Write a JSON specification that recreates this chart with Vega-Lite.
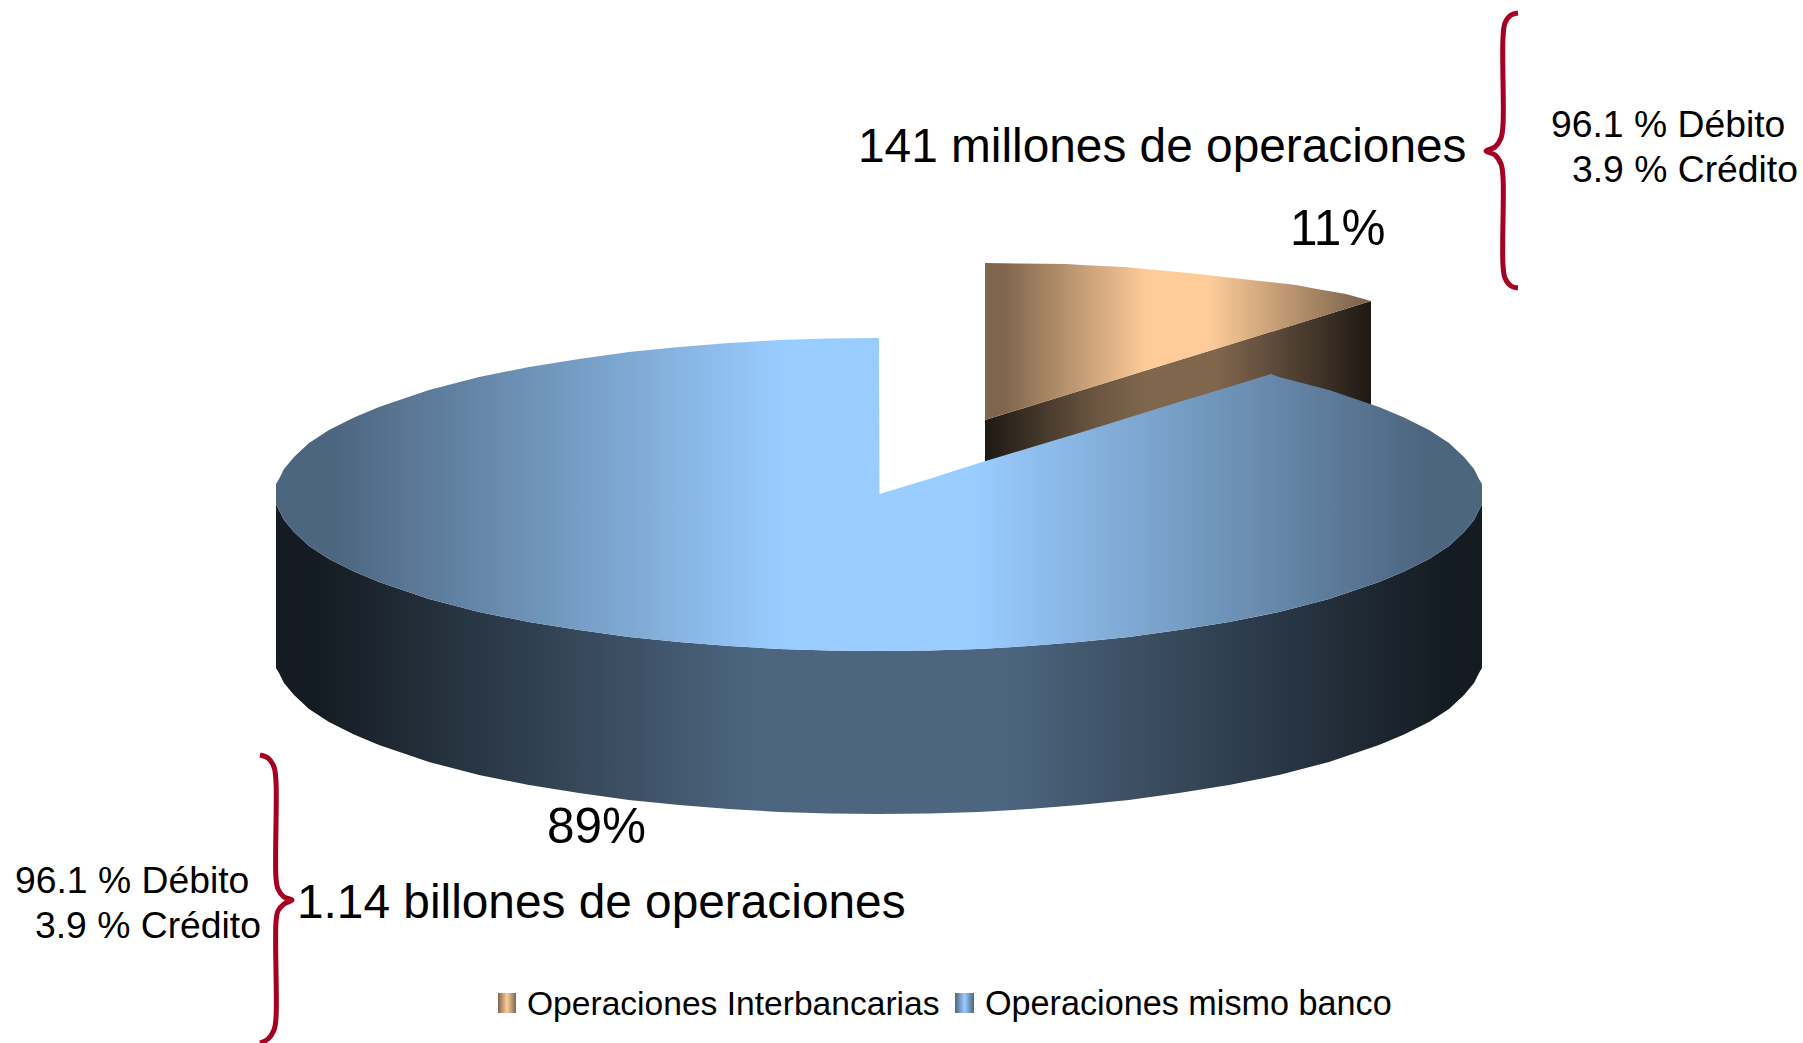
{
"$schema":"https://vega.github.io/schema/vega-lite/v6.json",
"width":1803,"height":1043,"padding":0,"autosize":{"type":"none"},
"background":"white",
"view":{"stroke":null},
"datasets":{
"side":[{"x":276,"y":504,"y2":668},{"x":279,"y":510,"y2":673},{"x":284,"y":520,"y2":683},{"x":294,"y":532,"y2":695},{"x":309,"y":546,"y2":709},{"x":329,"y":559,"y2":722},{"x":354,"y":571.5,"y2":734.5},{"x":379,"y":582,"y2":745},{"x":429,"y":599,"y2":762},{"x":479,"y":612,"y2":775},{"x":529,"y":622,"y2":785},{"x":579,"y":630,"y2":793},{"x":629,"y":637,"y2":800},{"x":679,"y":642,"y2":805},{"x":729,"y":646,"y2":809},{"x":779,"y":649,"y2":812},{"x":829,"y":650.5,"y2":813.5},{"x":879,"y":651,"y2":814},{"x":929,"y":650.5,"y2":813.5},{"x":979,"y":649,"y2":812},{"x":1029,"y":646,"y2":809},{"x":1079,"y":642,"y2":805},{"x":1129,"y":637,"y2":800},{"x":1179,"y":630,"y2":793},{"x":1229,"y":622,"y2":785},{"x":1279,"y":612,"y2":775},{"x":1329,"y":599,"y2":762},{"x":1379,"y":582,"y2":745},{"x":1404,"y":571.5,"y2":734.5},{"x":1429,"y":559,"y2":722},{"x":1449,"y":546,"y2":709},{"x":1464,"y":532,"y2":695},{"x":1474,"y":520,"y2":683},{"x":1479,"y":510,"y2":673},{"x":1482,"y":504,"y2":668}],
"top":[{"x":276,"y":484,"y2":504},{"x":279,"y":479,"y2":510},{"x":284,"y":469,"y2":520},{"x":294,"y":457,"y2":532},{"x":309,"y":443,"y2":546},{"x":329,"y":430,"y2":559},{"x":354,"y":417.5,"y2":571.5},{"x":379,"y":407,"y2":582},{"x":429,"y":390,"y2":599},{"x":479,"y":377,"y2":612},{"x":529,"y":367,"y2":622},{"x":579,"y":359,"y2":630},{"x":629,"y":352,"y2":637},{"x":679,"y":347,"y2":642},{"x":729,"y":343,"y2":646},{"x":779,"y":340,"y2":649},{"x":829,"y":338.5,"y2":650.5},{"x":879,"y":338,"y2":651},{"x":879.5,"y":494,"y2":651},{"x":929,"y":479,"y2":650.5},{"x":979,"y":463,"y2":649},{"x":1029,"y":448,"y2":646},{"x":1079,"y":433,"y2":642},{"x":1129,"y":417.5,"y2":637},{"x":1179,"y":402,"y2":630},{"x":1229,"y":387,"y2":622},{"x":1271,"y":374,"y2":613.5},{"x":1279,"y":377,"y2":612},{"x":1329,"y":390,"y2":599},{"x":1379,"y":407,"y2":582},{"x":1404,"y":417.5,"y2":571.5},{"x":1429,"y":430,"y2":559},{"x":1449,"y":443,"y2":546},{"x":1464,"y":457,"y2":532},{"x":1474,"y":469,"y2":520},{"x":1479,"y":479,"y2":510},{"x":1482,"y":484,"y2":504}],
"wedgeTop":[{"x":985,"y":263,"y2":420},{"x":1067,"y":264,"y2":394.7},{"x":1081,"y":265,"y2":390.4},{"x":1124,"y":267,"y2":377.2},{"x":1156,"y":270,"y2":367.3},{"x":1189,"y":273,"y2":357.2},{"x":1224,"y":277,"y2":346.4},{"x":1260,"y":281,"y2":335.3},{"x":1296,"y":285,"y2":324.2},{"x":1317,"y":289,"y2":317.7},{"x":1346,"y":294,"y2":308.8},{"x":1371,"y":301,"y2":301}],
"wedgeWall":[{"x":985,"y":420,"y2":583},{"x":1371,"y":301,"y2":464}],
"braceRight":[{"n":1,"x":1518,"y":13},{"n":2,"x":1511,"y":15},{"n":3,"x":1505,"y":23},{"n":4,"x":1503,"y":38},{"n":5,"x":1503,"y":125},{"n":6,"x":1501,"y":138},{"n":7,"x":1495,"y":147},{"n":8,"x":1486,"y":151},{"n":9,"x":1495,"y":155},{"n":10,"x":1501,"y":164},{"n":11,"x":1503,"y":177},{"n":12,"x":1503,"y":265},{"n":13,"x":1505,"y":278},{"n":14,"x":1511,"y":286},{"n":15,"x":1518,"y":288}],
"braceLeft":[{"n":1,"x":260,"y":755},{"n":2,"x":268,"y":758},{"n":3,"x":274,"y":767},{"n":4,"x":276,"y":782},{"n":5,"x":276,"y":878},{"n":6,"x":278,"y":889},{"n":7,"x":284,"y":897},{"n":8,"x":292,"y":900},{"n":9,"x":284,"y":904},{"n":10,"x":278,"y":911},{"n":11,"x":276,"y":922},{"n":12,"x":276,"y":1018},{"n":13,"x":274,"y":1030},{"n":14,"x":268,"y":1039},{"n":15,"x":260,"y":1043}],
"labelsBig":[{"x":858,"y":162,"label":"141 millones de operaciones"},{"x":297,"y":918,"label":"1.14 billones de operaciones"}],
"labelsPct":[{"x":1290,"y":245,"label":"11%"},{"x":547,"y":843,"label":"89%"}],
"labelsMid":[{"x":1551,"y":137,"label":"96.1 % Débito"},{"x":1572,"y":182,"label":"3.9 % Crédito"},{"x":15,"y":893,"label":"96.1 % Débito"},{"x":35,"y":938,"label":"3.9 % Crédito"}],
"legendA":[{"x":527,"y":1015,"label":"Operaciones Interbancarias"}],
"legendB":[{"x":985,"y":1015,"label":"Operaciones mismo banco"}]
},
"layer":[
{"data":{"name":"wedgeWall"},"mark":{"type":"area","color":{"gradient":"linear","x1":0,"y1":0,"x2":1,"y2":0,"stops":[{"offset":0,"color":"#1E1913"},{"offset":0.3,"color":"#6E5843"},{"offset":0.42,"color":"#7F664D"},{"offset":0.6,"color":"#7F664D"},{"offset":0.7,"color":"#6A5441"},{"offset":1,"color":"#1E1913"}]}},
"encoding":{"x":{"field":"x","type":"quantitative","scale":{"domain":[0,1803],"nice":false,"zero":false},"axis":null},"y":{"field":"y","type":"quantitative","scale":{"domain":[1043,0],"nice":false,"zero":false},"axis":null},"y2":{"field":"y2"}}},
{"data":{"name":"wedgeTop"},"mark":{"type":"area","color":{"gradient":"linear","x1":0,"y1":0,"x2":1,"y2":0,"stops":[{"offset":0,"color":"#7F664D"},{"offset":0.05,"color":"#7F664D"},{"offset":0.42,"color":"#FFCC99"},{"offset":0.58,"color":"#FFCC99"},{"offset":0.97,"color":"#7F664D"},{"offset":1,"color":"#7F664D"}]}},
"encoding":{"x":{"field":"x","type":"quantitative","axis":null},"y":{"field":"y","type":"quantitative","axis":null},"y2":{"field":"y2"}}},
{"data":{"name":"side"},"mark":{"type":"area","color":{"gradient":"linear","x1":0,"y1":0,"x2":1,"y2":0,"stops":[{"offset":0,"color":"#141B22"},{"offset":0.03,"color":"#141B22"},{"offset":0.4,"color":"#4D6680"},{"offset":0.6,"color":"#4D6680"},{"offset":0.97,"color":"#141B22"},{"offset":1,"color":"#141B22"}]}},
"encoding":{"x":{"field":"x","type":"quantitative","axis":null},"y":{"field":"y","type":"quantitative","axis":null},"y2":{"field":"y2"}}},
{"data":{"name":"top"},"mark":{"type":"area","color":{"gradient":"linear","x1":0,"y1":0,"x2":1,"y2":0,"stops":[{"offset":0,"color":"#4D6680"},{"offset":0.05,"color":"#4D6680"},{"offset":0.42,"color":"#99CCFF"},{"offset":0.58,"color":"#99CCFF"},{"offset":0.95,"color":"#4D6680"},{"offset":1,"color":"#4D6680"}]}},
"encoding":{"x":{"field":"x","type":"quantitative","axis":null},"y":{"field":"y","type":"quantitative","axis":null},"y2":{"field":"y2"}}},
{"data":{"name":"braceRight"},"mark":{"type":"line","interpolate":"catmull-rom","color":"#A50021","strokeWidth":5},
"encoding":{"x":{"field":"x","type":"quantitative","axis":null},"y":{"field":"y","type":"quantitative","axis":null},"order":{"field":"n","type":"quantitative"}}},
{"data":{"name":"braceLeft"},"mark":{"type":"line","interpolate":"catmull-rom","color":"#A50021","strokeWidth":5},
"encoding":{"x":{"field":"x","type":"quantitative","axis":null},"y":{"field":"y","type":"quantitative","axis":null},"order":{"field":"n","type":"quantitative"}}},
{"data":{"values":[{"x":498,"x2":516,"y":993,"y2":1013}]},"mark":{"type":"rect","color":{"gradient":"linear","x1":0,"y1":0,"x2":1,"y2":0,"stops":[{"offset":0,"color":"#7F664D"},{"offset":0.5,"color":"#FFCC99"},{"offset":1,"color":"#7F664D"}]}},
"encoding":{"x":{"field":"x","type":"quantitative","axis":null},"x2":{"field":"x2"},"y":{"field":"y","type":"quantitative","axis":null},"y2":{"field":"y2"}}},
{"data":{"values":[{"x":955,"x2":974,"y":993,"y2":1013}]},"mark":{"type":"rect","color":{"gradient":"linear","x1":0,"y1":0,"x2":1,"y2":0,"stops":[{"offset":0,"color":"#4D6680"},{"offset":0.5,"color":"#99CCFF"},{"offset":1,"color":"#4D6680"}]}},
"encoding":{"x":{"field":"x","type":"quantitative","axis":null},"x2":{"field":"x2"},"y":{"field":"y","type":"quantitative","axis":null},"y2":{"field":"y2"}}},
{"data":{"name":"labelsBig"},"mark":{"type":"text","font":"Liberation Sans","fontSize":47.8,"align":"left","baseline":"alphabetic","color":"#000000"},
"encoding":{"x":{"field":"x","type":"quantitative","axis":null},"y":{"field":"y","type":"quantitative","axis":null},"text":{"field":"label"}}},
{"data":{"name":"labelsPct"},"mark":{"type":"text","font":"Liberation Sans","fontSize":49.5,"align":"left","baseline":"alphabetic","color":"#000000"},
"encoding":{"x":{"field":"x","type":"quantitative","axis":null},"y":{"field":"y","type":"quantitative","axis":null},"text":{"field":"label"}}},
{"data":{"name":"labelsMid"},"mark":{"type":"text","font":"Liberation Sans","fontSize":37.3,"align":"left","baseline":"alphabetic","color":"#000000"},
"encoding":{"x":{"field":"x","type":"quantitative","axis":null},"y":{"field":"y","type":"quantitative","axis":null},"text":{"field":"label"}}},
{"data":{"name":"legendA"},"mark":{"type":"text","font":"Liberation Sans","fontSize":33.6,"align":"left","baseline":"alphabetic","color":"#000000"},
"encoding":{"x":{"field":"x","type":"quantitative","axis":null},"y":{"field":"y","type":"quantitative","axis":null},"text":{"field":"label"}}},
{"data":{"name":"legendB"},"mark":{"type":"text","font":"Liberation Sans","fontSize":34.2,"align":"left","baseline":"alphabetic","color":"#000000"},
"encoding":{"x":{"field":"x","type":"quantitative","axis":null},"y":{"field":"y","type":"quantitative","axis":null},"text":{"field":"label"}}}
]
}
